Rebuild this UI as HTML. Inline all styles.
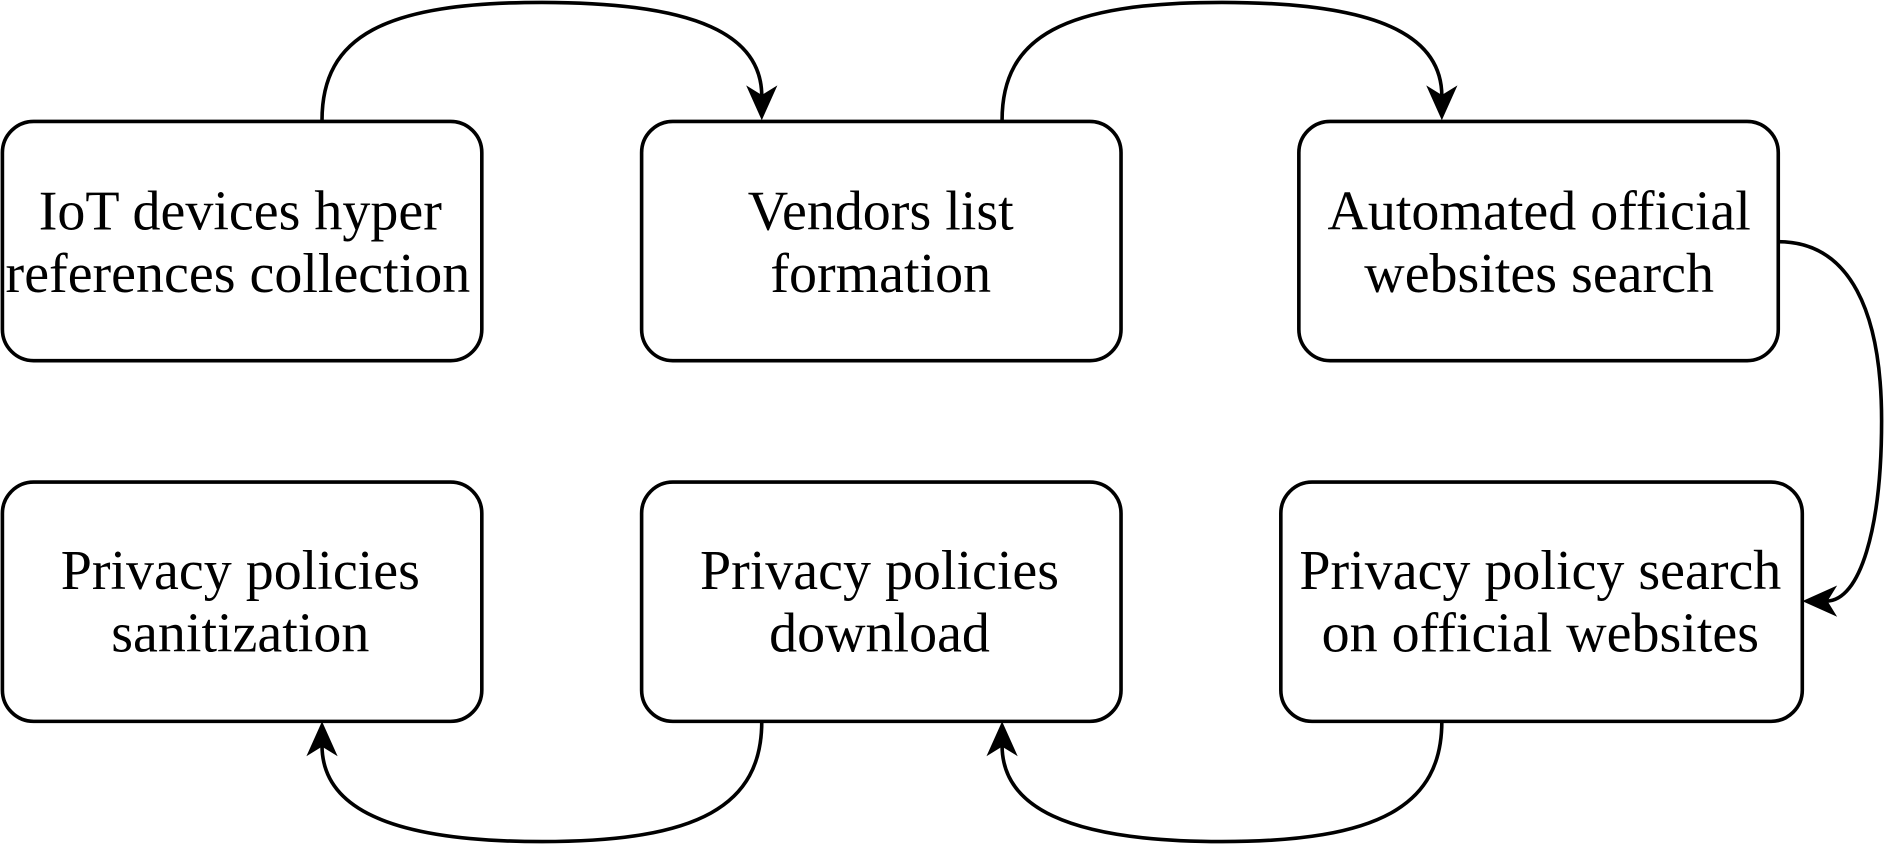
<!DOCTYPE html>
<html><head><meta charset="utf-8"><style>
html,body{margin:0;padding:0;background:#fff;}
svg{display:block;}
text{font-family:"Liberation Serif",serif;font-size:46.6px;fill:#000;text-anchor:middle;}
</style></head><body>
<svg width="1884" height="844" viewBox="0 0 1568 702" preserveAspectRatio="none">
<g fill="#fff" stroke="#000" stroke-width="3">
<rect x="2" y="101" width="399" height="199" rx="26"/>
<rect x="534" y="101" width="399" height="199" rx="26"/>
<rect x="1081" y="101" width="399" height="199" rx="26"/>
<rect x="2" y="401" width="399" height="199" rx="26"/>
<rect x="534" y="401" width="399" height="199" rx="26"/>
<rect x="1066" y="401" width="434" height="199" rx="26"/>
</g>
<g fill="none" stroke="#000" stroke-width="3">
<path d="M268,100 C268,30 320,2 451,2 C582,2 634,30 634,80"/>
<path d="M834,100 C834,30 886,2 1017,2 C1148,2 1200,30 1200,80"/>
<path d="M1480,201 C1540,201 1566,260 1566,350 C1566,440 1548,500 1520,500"/>
<path d="M634,600 C634,670 582,700 451,700 C320,700 268,670 268,620"/>
<path d="M1200,600 C1200,670 1148,700 1017,700 C886,700 834,670 834,620"/>
</g>
<g fill="#000">
<polygon points="634,100 621,71 634,79 647,71"/>
<polygon points="1200,100 1187,71 1200,79 1213,71"/>
<polygon points="1500,500 1529,487 1521,500 1529,513"/>
<polygon points="268,600 255,629 268,621 281,629"/>
<polygon points="834,600 821,629 834,621 847,629"/>
</g>
<text x="200" y="191">IoT devices hyper</text>
<text x="198" y="243">references collection</text>
<text x="733" y="191">Vendors list</text>
<text x="733" y="243">formation</text>
<text x="1281" y="191">Automated official</text>
<text x="1281" y="243">websites search</text>
<text x="200" y="490">Privacy policies</text>
<text x="200" y="542">sanitization</text>
<text x="732" y="490">Privacy policies</text>
<text x="732" y="542">download</text>
<text x="1282" y="490">Privacy policy search</text>
<text x="1282" y="542">on official websites</text>
</svg>
</body></html>
